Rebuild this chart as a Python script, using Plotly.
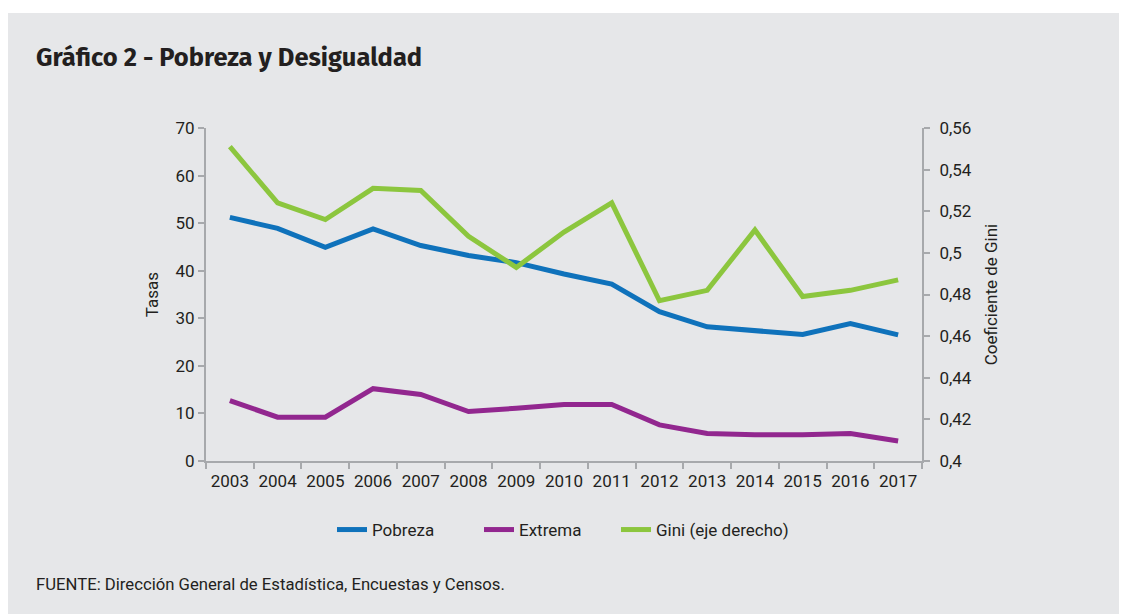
import plotly.graph_objects as go

years = [str(y) for y in range(2003, 2018)]
pobreza = [51.2, 48.9, 44.9, 48.8, 45.3, 43.2, 41.7, 39.3, 37.2, 31.4, 28.2, 27.3, 26.6, 28.9, 26.5]
extrema = [12.7, 9.2, 9.2, 15.2, 14.0, 10.4, 11.1, 11.9, 11.9, 7.6, 5.8, 5.5, 5.5, 5.8, 4.2]
gini = [0.551, 0.524, 0.516, 0.531, 0.530, 0.508, 0.493, 0.510, 0.524, 0.477, 0.482, 0.511, 0.479, 0.482, 0.487]

left_ticks = [0, 10, 20, 30, 40, 50, 60, 70]
right_ticks = [0.40, 0.42, 0.44, 0.46, 0.48, 0.50, 0.52, 0.54, 0.56]

BLUE = "#0f72bb"
PURPLE = "#92278f"
GREEN = "#8cc63e"
PANEL = "#e6e7e9"
PLOTBG = "#f1f2f4"
AXIS = "#a7a9ac"
TXT = "#231f20"
FONT = "Roboto, 'Liberation Sans Narrow', sans-serif"

fig = go.Figure()
fig.add_trace(go.Scatter(x=years, y=pobreza, name="Pobreza", mode="lines",
                         line=dict(color=BLUE, width=5), legend="legend"))
fig.add_trace(go.Scatter(x=years, y=extrema, name="Extrema", mode="lines",
                         line=dict(color=PURPLE, width=5), legend="legend2"))
fig.add_trace(go.Scatter(x=years, y=gini, name="Gini (eje derecho)", mode="lines",
                         line=dict(color=GREEN, width=5), yaxis="y2", legend="legend3"))

# page body has an 8px default margin: work in reference pixel coords, shifted
OFF = 8
W, H = 1127 - OFF, 614 - OFF
X0, X1, Y0, Y1 = 206 - OFF, 922 - OFF, 128 - OFF, 461 - OFF  # plot area in figure px
L, R, T, B = X0, W - X1, Y0, H - Y1
pw = X1 - X0
ph = Y1 - Y0

def px(x):
    return (x - OFF - X0) / pw

def py(y):
    return (Y1 - (y - OFF)) / ph

axis_common = dict(showgrid=False, zeroline=False, showline=True, linecolor=AXIS, linewidth=2,
                   ticks="outside", ticklen=6, tickcolor=AXIS, tickwidth=1.5,
                   tickfont=dict(size=17, color=TXT))

def leg(xref_px):
    return dict(orientation="h", x=px(xref_px), xanchor="left", y=py(530), yanchor="middle",
                bgcolor="rgba(0,0,0,0)", font=dict(size=17, color=TXT))

fig.update_layout(
    width=W, height=H,
    margin=dict(l=L, r=R, t=T, b=B, pad=0),
    paper_bgcolor="white",
    plot_bgcolor=PLOTBG,
    separators=",.",
    font=dict(family=FONT, size=17, color=TXT),
    showlegend=True,
    legend=leg(332),
    legend2=leg(479),
    legend3=leg(616),
    xaxis=dict(type="category", range=[-0.5, 14.5], tickson="boundaries", tickangle=0,
               ticklabelstandoff=4, **axis_common),
    yaxis=dict(range=[0, 70], tickvals=left_ticks,
               title=dict(text="Tasas", font=dict(size=17, color=TXT), standoff=13),
               **axis_common),
    yaxis2=dict(range=[0.40, 0.56], tickvals=right_ticks, overlaying="y", side="right",
                tickformat=".2~f", ticklabelstandoff=6,
                title=dict(text="Coeficiente de Gini", font=dict(size=17, color=TXT), standoff=14),
                **axis_common),
    shapes=[dict(type="rect", xref="paper", yref="paper", layer="below",
                 x0=px(0), x1=px(1140), y0=py(640), y1=py(13),
                 fillcolor=PANEL, line=dict(width=0))],
    annotations=[
        dict(text="<b>Gráfico 2 - Pobreza y Desigualdad</b>", xref="paper", yref="paper",
             x=px(34), y=py(57), xanchor="left", yanchor="middle",
             showarrow=False, font=dict(family="'Fira Sans', 'Open Sans', sans-serif", size=25.5, color=TXT)),
        dict(text="FUENTE: Dirección General de Estadística, Encuestas y Censos.", xref="paper", yref="paper",
             x=px(34), y=py(584), xanchor="left", yanchor="middle",
             showarrow=False, font=dict(size=16.7, color=TXT)),
    ],
)

fig.write_html("out.html")
